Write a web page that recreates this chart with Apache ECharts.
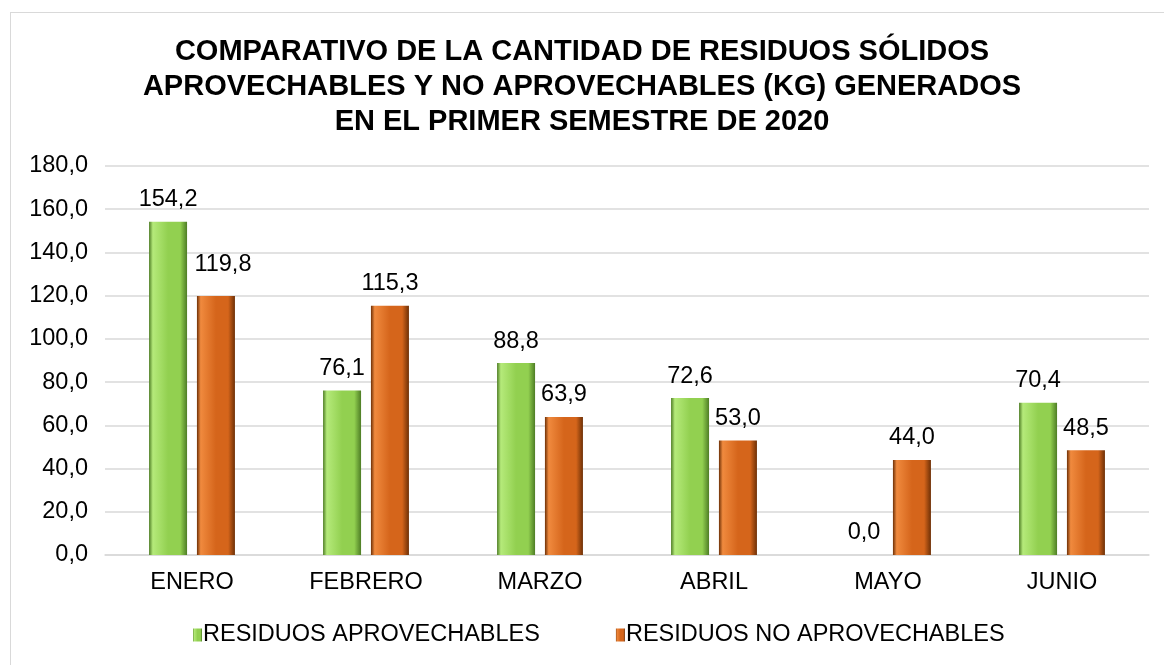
<!DOCTYPE html>
<html>
<head>
<meta charset="utf-8">
<script src="https://cdn.jsdelivr.net/npm/echarts@6/dist/echarts.min.js"></script>
<style>
  body { margin: 0; background: #fff; }
  #main { width: 1164px; height: 665px; }
  .frame { position: absolute; left: 10px; top: 12px; width: 1160px; height: 660px; border: 1px solid #d9d9d9; box-sizing: border-box; pointer-events: none; }
</style>
</head>
<body>
<div id="main"></div>
<div class="frame"></div>
<script>
var months = ['ENERO', 'FEBRERO', 'MARZO', 'ABRIL', 'MAYO', 'JUNIO'];
var aprovechables = [154.2, 76.1, 88.8, 72.6, 0.0, 70.4];
var noAprovechables = [119.8, 115.3, 63.9, 53.0, 44.0, 48.5];
var seriesNames = ['RESIDUOS APROVECHABLES', 'RESIDUOS NO APROVECHABLES'];

var fmt = function (v) { return Number(v).toFixed(1).replace('.', ','); };

// bisel horizontal para imitar el efecto 3D de Excel
var bevel = function (dark, base, light) {
  return new echarts.graphic.LinearGradient(0, 0, 1, 0, [
    { offset: 0, color: dark },
    { offset: 0.1, color: light },
    { offset: 0.5, color: base },
    { offset: 0.82, color: base },
    { offset: 1, color: dark }
  ]);
};

var chart = echarts.init(document.getElementById('main'));
var font = 'Liberation Sans, Arial, sans-serif';

var labelStyle = {
  show: true, position: 'top', distance: 10,
  formatter: function (p) { return fmt(p.value); },
  fontFamily: font, fontSize: 23.5, color: '#000'
};

// en Excel la etiqueta de enero (no aprovechables) quedó desplazada hacia arriba
var noAprovData = noAprovechables.map(function (v, i) {
  return i === 0 ? { value: v, label: { distance: 20, offset: [7, 0] } } : v;
});

var option = {
  animation: false,
  title: {
    text: 'COMPARATIVO DE LA CANTIDAD DE RESIDUOS SÓLIDOS\nAPROVECHABLES Y NO APROVECHABLES (KG) GENERADOS\nEN EL PRIMER SEMESTRE DE 2020',
    left: 'center',
    top: 29,
    textStyle: { fontFamily: font, fontSize: 29, fontWeight: 'bold', color: '#000', lineHeight: 35 }
  },
  legend: {
    top: 618,
    left: 188,
    itemWidth: 9,
    itemHeight: 13,
    itemGap: 76,
    icon: 'rect',
    textStyle: { fontFamily: font, fontSize: 23.5, color: '#000', padding: [0, 0, 0, -4] },
    data: seriesNames
  },
  grid: { left: 105, right: 15, top: 166, bottom: 110 },
  xAxis: {
    type: 'category',
    data: months,
    axisTick: { show: false },
    axisLine: { lineStyle: { color: '#d9d9d9', width: 1.5 } },
    axisLabel: { fontFamily: font, fontSize: 23.5, color: '#000', margin: 16 }
  },
  yAxis: {
    type: 'value',
    min: 0,
    max: 180,
    interval: 20,
    axisLine: { show: false },
    axisTick: { show: false },
    splitLine: { lineStyle: { color: '#d9d9d9', width: 1.5 } },
    axisLabel: { fontFamily: font, fontSize: 23.5, color: '#000', margin: 17, formatter: fmt }
  },
  series: [
    {
      name: seriesNames[0],
      type: 'bar',
      data: aprovechables,
      barWidth: 38,
      barGap: '26%',
      itemStyle: { color: bevel('#4e7d25', '#92d050', '#b5ea7a') },
      label: labelStyle
    },
    {
      name: seriesNames[1],
      type: 'bar',
      data: noAprovData,
      barWidth: 38,
      itemStyle: { color: bevel('#6e3006', '#d5651b', '#f08a3e') },
      label: labelStyle
    }
  ]
};

chart.setOption(option);
</script>
</body>
</html>
